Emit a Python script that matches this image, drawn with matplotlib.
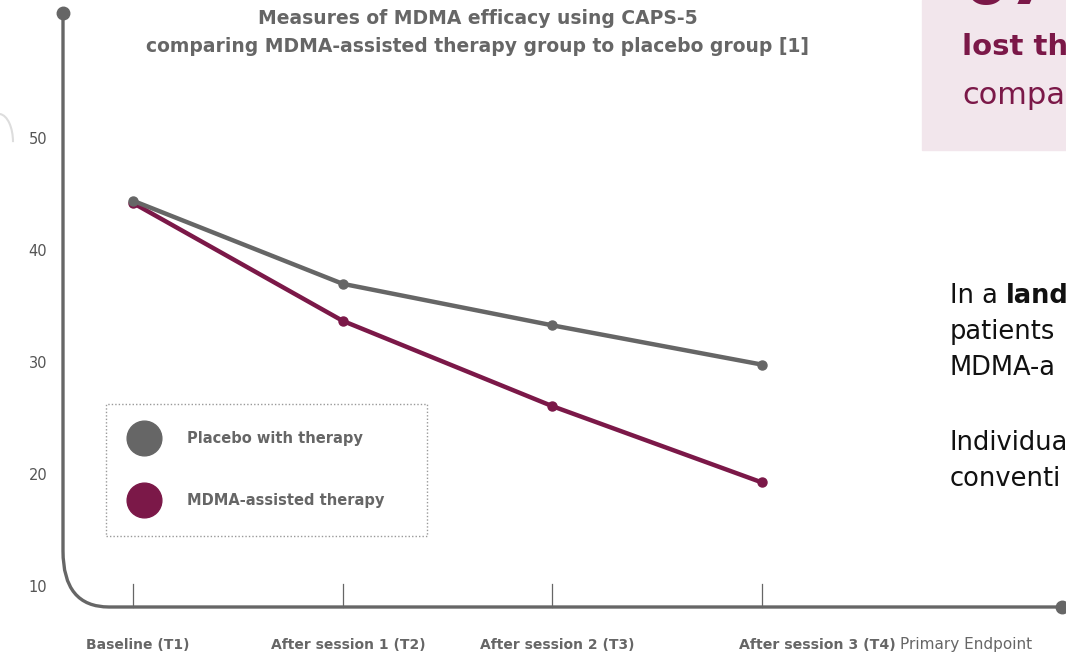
import numpy as np
import matplotlib.pyplot as plt
from matplotlib.patches import Rectangle, Arc
from matplotlib.path import Path
from matplotlib.patches import PathPatch

# Datos (CAPS-5)
etapas = ["Baseline (T1)", "After session 1 (T2)", "After session 2 (T3)", "After session 3 (T4)"]
placebo = [44.5, 37.1, 33.4, 29.9]
mdma = [44.3, 33.8, 26.2, 19.4]
yticks = [10, 20, 30, 40, 50]
series_names = ["Placebo with therapy", "MDMA-assisted therapy"]

GRIS = "#666666"
GRANATE = "#7b1848"
ROSA = "#f2e6ec"

W, H = 1066, 655
fig = plt.figure(figsize=(W / 100, H / 100), dpi=100)
ax = fig.add_axes([0, 0, 1, 1])
ax.axis("off")

# escala: x=0 -> 133px, paso 209.67px ; y=50 -> 139px, 11.225 px por unidad
dx, dy = 209.67, 11.225
ax.set_xlim((0 - 133) / dx, (W - 133) / dx)
ax.set_ylim(50 - (H - 139) / dy, 50 + 139 / dy)


def px(x):
    return (x - 133) / dx


def py(y):
    return 50 - (y - 139) / dy


def fx(x):
    return x / W


def fy(y):
    return 1 - y / H


# fondo rosa a la derecha
fig.patches.append(Rectangle((fx(922), fy(150)), fx(W) - fx(922), fy(0) - fy(150),
                             transform=fig.transFigure, color=ROSA, zorder=0))
fig.text(fx(962), fy(4), "67%", color=GRANATE, fontsize=48, fontweight="bold",
         va="baseline", ha="left")
fig.text(fx(962), fy(55), "lost the", color=GRANATE, fontsize=21, fontweight="bold",
         va="baseline", ha="left")
fig.text(fx(962), fy(104), "compa", color=GRANATE, fontsize=22, va="baseline", ha="left")

# texto derecho
fig.text(fx(950), fy(303), "In a", color="#111111", fontsize=18.5, va="baseline", ha="left")
fig.text(fx(1006), fy(303), "land", color="#111111", fontsize=18.5, fontweight="bold",
         va="baseline", ha="left")
for yy, t in [(339, "patients"), (375, "MDMA-a"), (450, "Individua"), (486, "conventi")]:
    fig.text(fx(950), fy(yy), t, color="#111111", fontsize=18.5, va="baseline", ha="left")

# arco gris claro a la izquierda
ax.add_patch(Arc((px(-1), py(142)), 2 * 14 / dx, 2 * 28 / dy, theta1=-10, theta2=100,
                 color="#dddddd", lw=1.5))

# ejes con esquina redondeada
r_x, r_y = 46, 56
verts = [(px(63), py(13)), (px(63), py(607 - r_y)),
         (px(63), py(607)), (px(63 + r_x), py(607)),
         (px(1062), py(607))]
codes = [Path.MOVETO, Path.LINETO, Path.CURVE3, Path.CURVE3, Path.LINETO]
ax.add_patch(PathPatch(Path(verts, codes), fill=False, edgecolor=GRIS, lw=2.4,
                       capstyle="butt"))
ax.plot([px(63), px(1062)], [py(13), py(607)], "o", color=GRIS, ms=9, ls="none")

# marcas del eje x
x = np.arange(len(etapas))
for xi in x:
    ax.plot([xi, xi], [py(584), py(607)], color=GRIS, lw=0.9)

# etiquetas del eje y
for v in yticks:
    ax.text(px(38), v, str(v), ha="center", va="center", fontsize=10.5, color="#555555")

# etiquetas del eje x
for xi, lab in zip(x[:3], etapas[:3]):
    ax.text(xi + 0.025, py(645), lab, ha="center", va="center", fontsize=10,
            fontweight="bold", color=GRIS)
ax.text(px(739), py(645), etapas[3], ha="left", va="center", fontsize=10.2,
        fontweight="bold", color=GRIS)
ax.text(px(900), py(645), "Primary Endpoint", ha="left", va="center", fontsize=11,
        color=GRIS)

# titulo
ax.text(px(478), py(18), "Measures of MDMA efficacy using CAPS-5", ha="center",
        va="center", fontsize=13.5, fontweight="bold", color=GRIS)
ax.text(px(478), py(46), "comparing MDMA-assisted therapy group to placebo group [1]",
        ha="center", va="center", fontsize=13.5, fontweight="bold", color=GRIS)

# lineas
ax.plot(x, placebo, color=GRIS, lw=3.2, marker="o", ms=6.5, zorder=5)
ax.plot(x, mdma, color=GRANATE, lw=3.2, marker="o", ms=6.5, zorder=4)

# leyenda
ax.add_patch(Rectangle((px(106), py(536)), px(427) - px(106), py(404) - py(536),
                       fill=False, edgecolor="#999999", lw=1, ls=(0, (1, 1.5))))
for yy, col, name in [(438, GRIS, series_names[0]), (500, GRANATE, series_names[1])]:
    ax.plot([px(144)], [py(yy)], "o", color=col, ms=25)
    ax.text(px(187), py(yy), name, ha="left", va="center", fontsize=10.5,
            fontweight="bold", color=GRIS)

fig.savefig("out.png", dpi=100)
